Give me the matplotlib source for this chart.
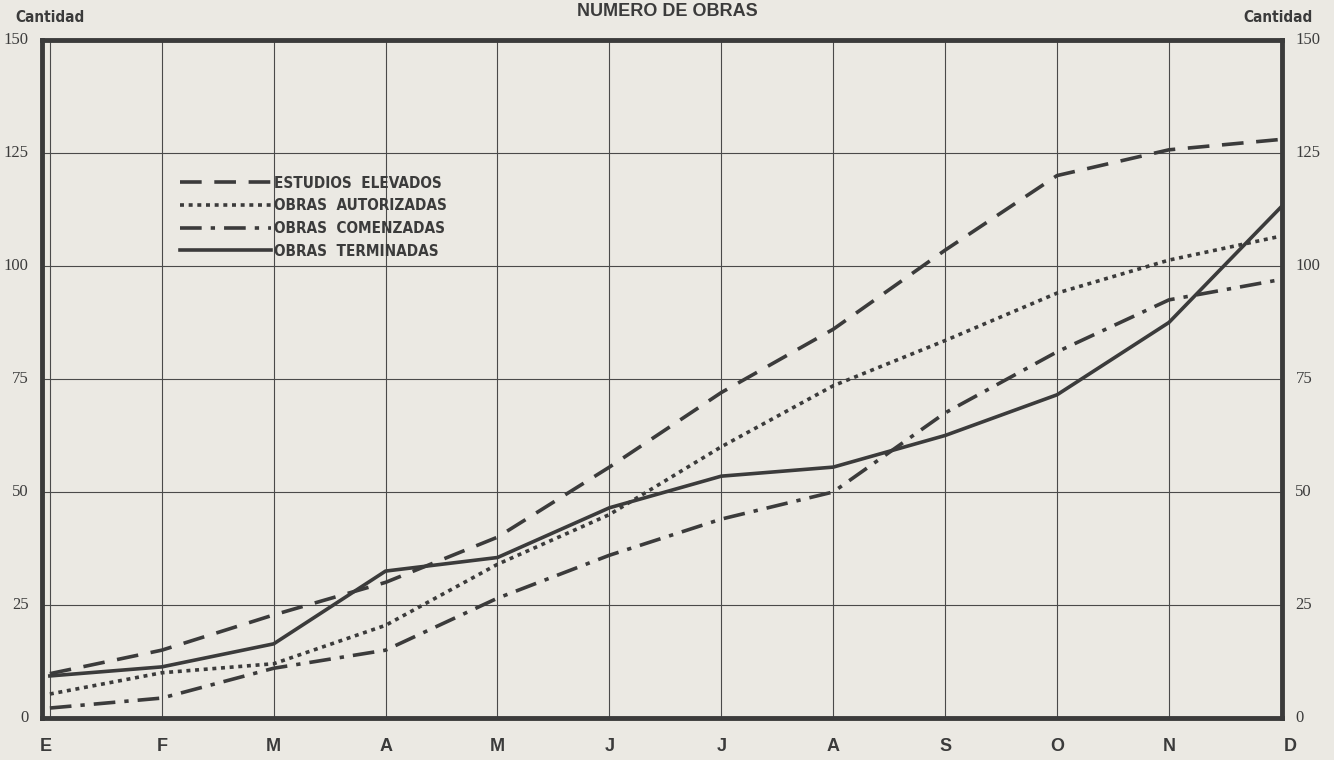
import matplotlib.pyplot as plt

meses = ["E", "F", "M", "A", "M", "J", "J", "A", "S", "O", "N", "D"]
estudios = [9.8, 15, 22.8, 30, 40, 55.5, 72, 86, 103.5, 120, 125.7, 128]
autorizadas = [5.3, 10, 12, 20.5, 34, 45, 60, 73.5, 83.5, 94, 101.3, 106.6]
comenzadas = [2.2, 4.4, 11, 15, 26.5, 36, 44, 50, 67.5, 81, 92.5, 97]
terminadas = [9.3, 11.3, 16.4, 32.5, 35.5, 46.5, 53.5, 55.5, 62.5, 71.5, 87.5, 113]
yticks = [0, 25, 50, 75, 100, 125, 150]

fondo = "#ebe9e3"
tinta = "#3b3b3b"

fig = plt.figure(figsize=(13.34, 7.6), dpi=100, facecolor=fondo)
ax = fig.add_axes([0.0315, 0.0553, 0.9295, 0.8921])
ax.set_facecolor(fondo)

x = list(range(len(meses)))
ax.plot(x, estudios, color=tinta, lw=2.6, dashes=(6, 3.5), label="ESTUDIOS  ELEVADOS")
ax.plot(x, autorizadas, color=tinta, lw=2.6, dashes=(1.1, 1.3), label="OBRAS  AUTORIZADAS")
ax.plot(x, comenzadas, color=tinta, lw=2.6, dashes=(6, 2.5, 1.2, 2.5), label="OBRAS  COMENZADAS")
ax.plot(x, terminadas, color=tinta, lw=2.6, label="OBRAS  TERMINADAS")

ax.set_xlim(-0.07, len(meses) - 1 + 0.01)
ax.set_ylim(0, 150)
ax.set_xticks(x)
ax.set_yticks(yticks)
ax.grid(True, color="#4a4a4a", lw=0.8)
ax.tick_params(length=0)
ax.set_xticklabels([])
ax.set_yticklabels([])

for s in ax.spines.values():
    s.set_linewidth(3.5)
    s.set_color(tinta)

for v in yticks:
    ax.text(-0.19, v, str(v), ha="right", va="center", fontsize=12,
            family="Liberation Serif", color=tinta)
    ax.text(11.13, v, str(v), ha="left", va="center", fontsize=12,
            family="Liberation Serif", color=tinta)

for i, m in enumerate(meses):
    dx = -0.04 if i == 0 else (0.08 if i == len(meses) - 1 else 0)
    ax.text(i + dx, -4.5, m, ha="center", va="top", fontsize=13,
            family="Liberation Sans", weight="bold", color=tinta)

fig.text(0.5, 0.985, "NUMERO DE OBRAS", ha="center", va="center", fontsize=13,
         family="Liberation Sans", weight="bold", color=tinta)
fig.text(0.0375, 0.977, "Cantidad", ha="center", va="center", fontsize=11,
         family="DejaVu Sans", stretch="condensed", weight="bold", color=tinta)
fig.text(0.958, 0.977, "Cantidad", ha="center", va="center", fontsize=11,
         family="DejaVu Sans", stretch="condensed", weight="bold", color=tinta)

leg = ax.legend(loc="upper left", bbox_to_anchor=(0.1, 0.82), frameon=False,
                handlelength=6.0, handletextpad=0.15, labelspacing=0.5,
                prop={"family": "DejaVu Sans", "stretch": "condensed",
                      "weight": "bold", "size": 11})
for t in leg.get_texts():
    t.set_color(tinta)

fig.savefig("out.png", dpi=100, facecolor=fondo)
